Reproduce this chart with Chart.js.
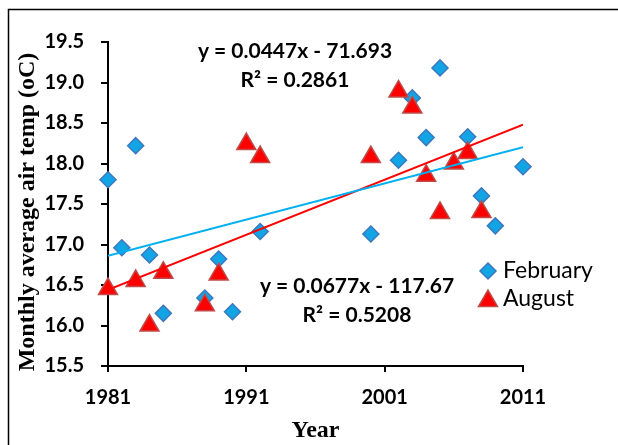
<!DOCTYPE html>
<html>
<head>
<meta charset="utf-8">
<script src="https://cdn.jsdelivr.net/npm/chart.js@4"></script>
<style>
  html, body { margin: 0; padding: 0; background: #fff; }
  #wrap { width: 618px; height: 445px; position: relative; }
</style>
</head>
<body>
<div id="wrap"><canvas id="myChart" width="618" height="445"></canvas></div>
<script>
/* global Chart */
const febYears = [1981, 1982, 1983, 1984, 1985, 1988, 1989, 1990, 1992, 2000, 2002, 2003, 2004, 2005, 2007, 2008, 2009, 2011];
const febTemps = [17.80, 16.96, 18.22, 16.87, 16.15, 16.34, 16.82, 16.17, 17.16, 17.13, 18.04, 18.81, 18.32, 19.18, 18.33, 17.60, 17.23, 17.96];

const augYears = [1981, 1983, 1984, 1985, 1988, 1989, 1991, 1992, 2000, 2002, 2003, 2004, 2005, 2006, 2007, 2008];
const augTemps = [16.45, 16.55, 16.00, 16.65, 16.25, 16.63, 18.24, 18.08, 18.08, 18.89, 18.69, 17.85, 17.39, 18.00, 18.13, 17.40];

// trend line ends (1981 and 2011)
const trendYears = [1981, 2011];
const febTrend = [16.86, 18.20];
const augTrend = [16.44, 18.48];

const xTicks = [1981, 1991, 2001, 2011];

const febEquation = ['y = 0.0447x - 71.693', 'R² = 0.2861'];
const augEquation = ['y = 0.0677x - 117.67', 'R² = 0.5208'];
const yTitle = 'Monthly average air temp (oC)';

const FEB_FILL = 'rgb(18,165,230)';
const FEB_EDGE = 'rgb(60,120,190)';
const AUG_FILL = 'rgb(255,0,0)';
const AUG_EDGE = 'rgb(190,75,72)';

function toPoints(xs, ys) {
  return xs.map((x, i) => ({ x, y: ys[i] }));
}

function drawDiamond(ctx, x, y, r) {
  ctx.beginPath();
  ctx.moveTo(x, y - r);
  ctx.lineTo(x + r, y);
  ctx.lineTo(x, y + r);
  ctx.lineTo(x - r, y);
  ctx.closePath();
}

function drawTriangle(ctx, x, y, r) {
  ctx.beginPath();
  ctx.moveTo(x, y - r);
  ctx.lineTo(x + r * 0.866, y + r / 2);
  ctx.lineTo(x - r * 0.866, y + r / 2);
  ctx.closePath();
}

const extras = {
  id: 'extras',
  beforeDraw(chart) {
    const ctx = chart.ctx;
    ctx.save();
    ctx.fillStyle = '#fff';
    ctx.fillRect(0, 0, chart.width, chart.height);
    // frame (only top and left are visible in the crop)
    ctx.strokeStyle = '#000';
    ctx.lineWidth = 1.5;
    ctx.beginPath();
    ctx.moveTo(8.5, chart.height);
    ctx.lineTo(8.5, 9.5);
    ctx.lineTo(chart.width, 9.5);
    ctx.stroke();
    ctx.restore();
  },
  afterDraw(chart) {
    const ctx = chart.ctx;
    ctx.save();

    // y axis title, sits a little below the plot centre in the original
    ctx.save();
    ctx.translate(28, 212);
    ctx.rotate(-Math.PI / 2);
    ctx.fillStyle = '#000';
    ctx.textAlign = 'center';
    ctx.textBaseline = 'middle';
    ctx.font = 'bold 24px "Liberation Serif"';
    ctx.fillText(yTitle, 0, 0);
    ctx.restore();

    ctx.fillStyle = '#000';
    ctx.textAlign = 'center';
    ctx.textBaseline = 'middle';
    ctx.font = 'bold 21px Lato';
    ctx.fillText(febEquation[0], 295, 51);
    ctx.fillText(febEquation[1], 295, 80);
    ctx.fillText(augEquation[0], 357, 286);
    ctx.fillText(augEquation[1], 357, 315);

    // legend
    ctx.lineWidth = 1.5;
    drawDiamond(ctx, 488, 271, 8);
    ctx.fillStyle = FEB_FILL;
    ctx.strokeStyle = FEB_EDGE;
    ctx.fill();
    ctx.stroke();
    drawTriangle(ctx, 488, 301, 11);
    ctx.fillStyle = AUG_FILL;
    ctx.strokeStyle = AUG_EDGE;
    ctx.fill();
    ctx.stroke();

    ctx.fillStyle = '#000';
    ctx.textAlign = 'left';
    ctx.font = '23px Lato';
    ctx.fillText('February', 503, 271);
    ctx.fillText('August', 503, 299);
    ctx.restore();
  },
};

const chart = new Chart(document.getElementById('myChart').getContext('2d'), {
  type: 'scatter',
  data: {
    datasets: [{
      label: 'Linear (February)',
      data: toPoints(trendYears, febTrend),
      showLine: true,
      borderColor: 'rgb(0,176,240)',
      borderWidth: 2,
      pointRadius: 0,
      order: 0,
    }, {
      label: 'Linear (August)',
      data: toPoints(trendYears, augTrend),
      showLine: true,
      borderColor: 'rgb(255,0,0)',
      borderWidth: 2,
      pointRadius: 0,
      order: 0,
    }, {
      label: 'August',
      data: toPoints(augYears, augTemps),
      pointStyle: 'triangle',
      pointRadius: 11,
      pointHoverRadius: 11,
      backgroundColor: AUG_FILL,
      borderColor: AUG_EDGE,
      borderWidth: 1.5,
      clip: false,
      order: 1,
    }, {
      label: 'February',
      data: toPoints(febYears, febTemps),
      pointStyle: 'rectRot',
      pointRadius: 8,
      pointHoverRadius: 8,
      backgroundColor: FEB_FILL,
      borderColor: FEB_EDGE,
      borderWidth: 1.5,
      clip: false,
      order: 2,
    }],
  },
  options: {
    responsive: false,
    animation: false,
    events: [],
    layout: { padding: { left: 0, top: 42, right: 95, bottom: 0 } },
    plugins: {
      legend: { display: false },
      tooltip: { enabled: false },
    },
    scales: {
      x: {
        type: 'linear',
        min: 1981,
        max: 2011,
        afterBuildTicks: (scale) => {
          scale.ticks = xTicks.map((v) => ({ value: v }));
        },
        afterFit: (scale) => { scale.height = 79; },
        border: { color: '#000', width: 2 },
        grid: { drawOnChartArea: false, drawTicks: true, tickLength: 6, color: '#000', lineWidth: 2 },
        ticks: {
          color: '#000',
          font: { family: 'Lato', size: 20, weight: 'bold' },
          padding: 14,
          maxRotation: 0,
          callback: (v) => String(v),
        },
        title: {
          display: true,
          text: 'Year',
          color: '#000',
          font: { family: 'Liberation Serif', size: 24, weight: 'bold' },
          padding: { top: 0, bottom: 0 },
        },
      },
      y: {
        min: 15.5,
        max: 19.5,
        afterFit: (scale) => { scale.width = 108; },
        border: { color: '#000', width: 2 },
        grid: { drawOnChartArea: false, drawTicks: true, tickLength: 7, color: '#000', lineWidth: 2 },
        ticks: {
          stepSize: 0.5,
          color: '#000',
          font: { family: 'Lato', size: 20, weight: 'bold' },
          padding: 17,
          callback: (v) => Number(v).toFixed(1),
        },
        title: { display: false },
      },
    },
  },
  plugins: [extras],
});
</script>
</body>
</html>
